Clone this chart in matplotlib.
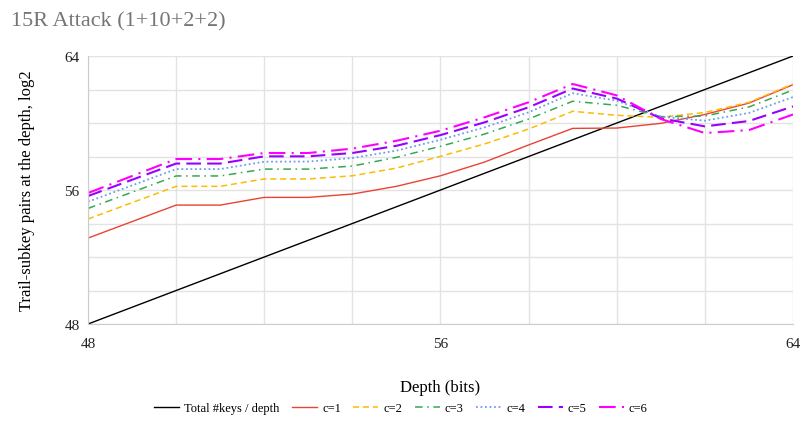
import matplotlib.pyplot as plt
from matplotlib.ticker import MultipleLocator

plt.rcParams['font.family'] = ['Liberation Serif', 'DejaVu Serif']

# depth (bits) for each curve point
depth = [48, 50, 51, 52, 53, 54, 55, 56, 57, 58, 59, 60, 61, 62, 63, 64]

# total keys / depth reference line
total_x = [48, 64]
total_y = [48, 64]

c1 = [53.13, 55.10, 55.10, 55.56, 55.56, 55.76, 56.22, 56.85, 57.67, 58.69, 59.68, 59.70, 59.98, 60.51, 61.19, 62.29]
c2 = [54.27, 56.22, 56.22, 56.66, 56.66, 56.85, 57.31, 58.01, 58.75, 59.64, 60.70, 60.46, 60.34, 60.63, 61.24, 62.33]
c3 = [54.90, 56.84, 56.84, 57.25, 57.25, 57.43, 57.95, 58.61, 59.34, 60.24, 61.30, 61.06, 60.38, 60.42, 60.96, 61.97]
c4 = [55.30, 57.25, 57.25, 57.69, 57.70, 57.91, 58.35, 59.00, 59.74, 60.64, 61.78, 61.33, 60.38, 60.14, 60.60, 61.55]
c5 = [55.64, 57.58, 57.58, 58.01, 58.01, 58.21, 58.64, 59.28, 60.04, 60.94, 62.06, 61.46, 60.28, 59.80, 60.12, 60.99]
c6 = [55.82, 57.85, 57.85, 58.21, 58.21, 58.47, 58.94, 59.54, 60.34, 61.24, 62.33, 61.65, 60.24, 59.40, 59.58, 60.51]

fig = plt.figure(figsize=(8.02, 4.31), dpi=100)
ax = fig.add_axes([0.1097, 0.2459, 0.8791, 0.6218])

ax.plot(total_x, total_y, color='black', lw=1.0, label='Total #keys / depth')
ax.plot(depth, c1, color='#ea4335', lw=1.0, label='c=1')
ax.plot(depth, c2, color='#fbbc04', lw=1.1, dashes=(4, 2.5), label='c=2')
ax.plot(depth, c3, color='#34a853', lw=1.1, dashes=(5, 3, 1, 3), label='c=3')
ax.plot(depth, c4, color='#6d9eeb', lw=1.3, dashes=(1, 1.5), label='c=4')
ax.plot(depth, c5, color='#9900ff', lw=1.5, dashes=(7, 3), label='c=5')
ax.plot(depth, c6, color='#ff00ff', lw=1.5, dashes=(8, 3, 1, 3), label='c=6')

ax.set_xlim(48, 64)
ax.set_ylim(48, 64)
ax.xaxis.set_major_locator(MultipleLocator(8))
ax.yaxis.set_major_locator(MultipleLocator(8))
ax.xaxis.set_minor_locator(MultipleLocator(2))
ax.yaxis.set_minor_locator(MultipleLocator(2))
ax.grid(True, which='both', color='#e3e3e3', lw=1)
ax.set_axisbelow(True)
ax.tick_params(which='both', length=0, labelsize=11, colors='#222222')
ax.tick_params(axis='x', pad=9)
ax.tick_params(axis='y', pad=6)
for s in ax.spines.values():
    s.set_visible(False)
ax.spines['left'].set_visible(True)
ax.spines['bottom'].set_visible(True)
ax.spines['left'].set_color('#cccccc')
ax.spines['bottom'].set_color('#cccccc')

ax.set_xlabel('Depth (bits)', fontsize=12, labelpad=21)
ax.set_ylabel('Trail-subkey pairs at the depth, log2', fontsize=12, labelpad=21)

fig.text(0.014, 0.95, '15R Attack (1+10+2+2)', fontsize=16, color='#757575', va='center')

fig.legend(loc='center', bbox_to_anchor=(0.5, 0.05), ncol=7, frameon=False,
           fontsize=9, handlelength=2.0, handletextpad=0.4, columnspacing=1.0)

fig.savefig('out.png', dpi=100)
